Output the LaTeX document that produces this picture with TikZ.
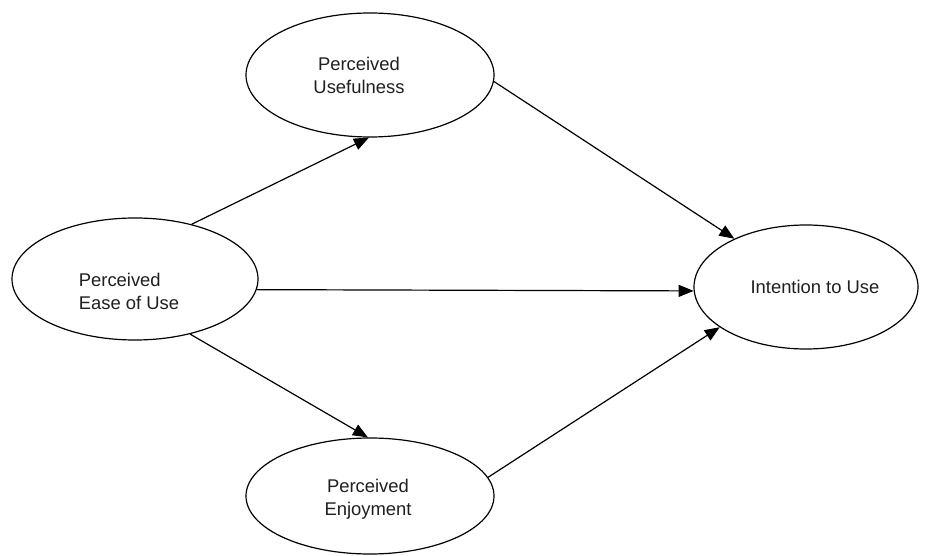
\documentclass[tikz,border=0pt]{standalone}
\usepackage{fontspec}
\setmainfont{Liberation Sans}
\usetikzlibrary{shapes.geometric,arrows.meta}
\begin{document}
\begin{tikzpicture}[x=1pt,y=-1pt,
  construct/.style={ellipse,draw=black,line width=1.2pt,inner sep=0pt},
  caption/.style={font=\fontsize{18.4}{23}\selectfont,text=black!88,align=left},
  path/.style={draw=black,line width=1.2pt,-{Triangle[length=15pt,width=12pt]}}]
  \useasboundingbox (0,0) rectangle (930,556);
  % constructs
  \node[construct,minimum width=248pt,minimum height=124pt] (pu) at (370,75) {};
  \node[construct,minimum width=246pt,minimum height=122pt] (peou) at (135,279) {};
  \node[construct,minimum width=224pt,minimum height=124pt] (itu) at (806,287) {};
  \node[construct,minimum width=248pt,minimum height=116pt] (pe) at (370,496) {};
  % labels
  \node[caption,align=center] (pu-t) at (359,75) {Perceived\\Usefulness};
  \node[caption] (peou-t) at (129,291) {Perceived\\Ease of Use};
  \node[caption] (itu-t) at (815,287) {Intention to Use};
  \node[caption,align=center] (pe-t) at (368,499) {Perceived\\Enjoyment};
  % hypothesised paths
  \draw[path] (peou.44) -- (pu.-91.5);
  \draw[path] (peou.-45) -- (pe.92);
  \draw[path] (peou.-5.6) -- (itu.182);
  \draw[path] (pu.-3.3) -- (itu.146.6);
  \draw[path] (pe.9.7) -- (itu.205.7);
\end{tikzpicture}
\end{document}
